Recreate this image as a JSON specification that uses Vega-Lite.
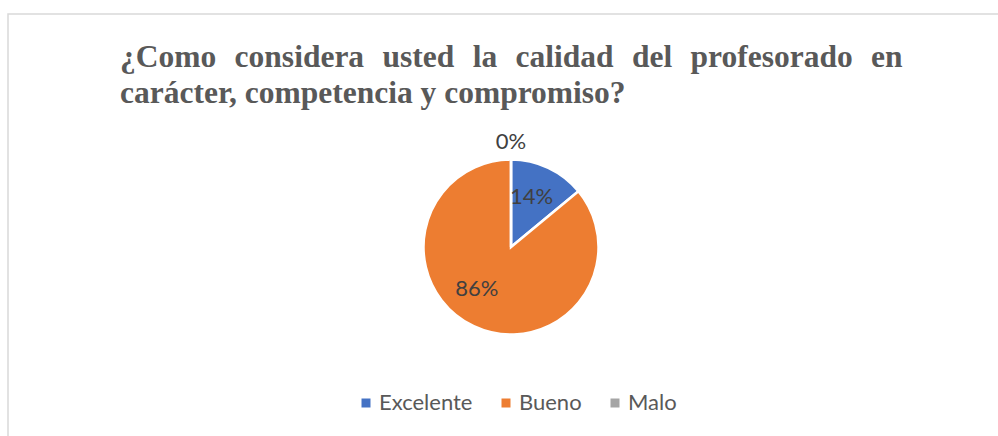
{
  "$schema": "https://vega.github.io/schema/vega-lite/v6.json",
  "width": 1006,
  "height": 466,
  "autosize": {"type": "none"},
  "padding": {"left": 8, "top": 14, "right": -16, "bottom": -44},
  "background": "white",
  "view": {"stroke": "#d9d9d9", "strokeWidth": 1.5},
  "config": {"view": {"stroke": "#d9d9d9", "strokeWidth": 1.5}},
  "title": {
    "text": ["¿Como \u2004considera \u2004usted \u2004la \u2004calidad \u2004del \u2004profesorado \u2004en", "carácter, competencia y compromiso?"],
    "font": "Liberation Serif",
    "fontSize": 31.5,
    "fontWeight": "bold",
    "color": "#595959",
    "anchor": "start",
    "frame": "group",
    "align": "left",
    "baseline": "top",
    "lineHeight": 36,
    "dx": 112,
    "offset": -95
  },
  "data": {
    "values": [
      {"categoria": "Excelente", "p": 0.14, "orden": 1},
      {"categoria": "Bueno", "p": 0.86, "orden": 2},
      {"categoria": "Malo", "p": 0, "orden": 3}
    ]
  },
  "encoding": {
    "theta": {"field": "p", "type": "quantitative", "stack": true},
    "order": {"field": "orden", "type": "quantitative"}
  },
  "layer": [
    {
      "mark": {"type": "arc", "outerRadius": 87.5, "stroke": "white", "strokeWidth": 2.5},
      "encoding": {
        "color": {
          "field": "categoria",
          "type": "nominal",
          "sort": ["Excelente", "Bueno", "Malo"],
          "scale": {"domain": ["Excelente", "Bueno", "Malo"], "range": ["#4472C4", "#ED7D31", "#A5A5A5"]},
          "legend": {
            "title": null,
            "orient": "none",
            "direction": "horizontal",
            "legendX": 347,
            "legendY": 378,
            "symbolType": "square",
            "symbolSize": 81,
            "symbolStrokeWidth": 0,
            "labelFont": "Lato",
            "labelFontSize": 22,
            "labelColor": "#595959",
            "labelOffset": 2,
            "columnPadding": 22,
            "padding": 0
          }
        }
      }
    },
    {
      "mark": {"type": "text", "radius": 54, "thetaOffset": -0.05, "font": "Lato", "fontSize": 22, "color": "#404040", "align": "center", "baseline": "middle"},
      "encoding": {
        "text": {"condition": {"test": "datum.categoria === 'Excelente'", "field": "p", "type": "quantitative", "format": ".0%"}, "value": ""}
      }
    },
    {
      "mark": {"type": "text", "radius": 54, "thetaOffset": 0.244, "font": "Lato", "fontSize": 22, "color": "#404040", "align": "center", "baseline": "middle"},
      "encoding": {
        "text": {"condition": {"test": "datum.categoria === 'Bueno'", "field": "p", "type": "quantitative", "format": ".0%"}, "value": ""}
      }
    },
    {
      "mark": {"type": "text", "radius": 105, "font": "Lato", "fontSize": 22, "color": "#404040", "align": "center", "baseline": "middle"},
      "encoding": {
        "text": {"condition": {"test": "datum.categoria === 'Malo'", "field": "p", "type": "quantitative", "format": ".0%"}, "value": ""}
      }
    }
  ]
}
